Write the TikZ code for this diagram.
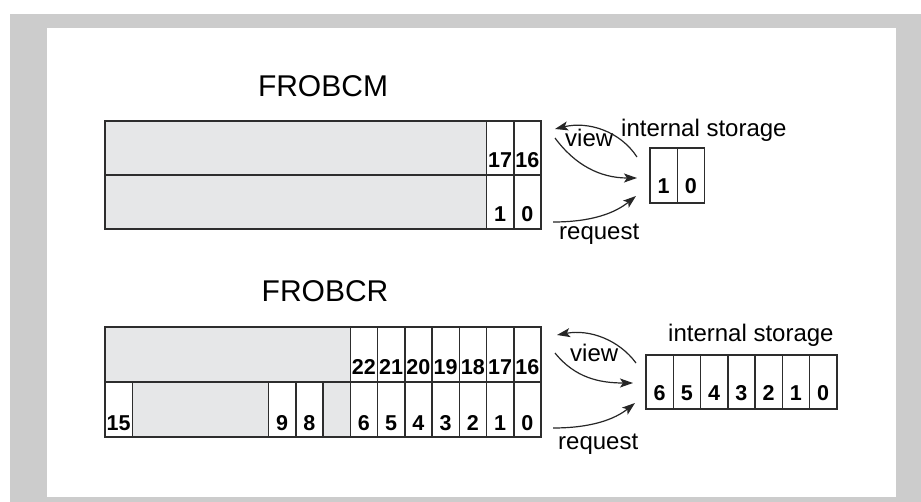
\documentclass[tikz,border=0pt]{standalone}
\usepackage{fontspec}
\setmainfont{Liberation Sans}
\usetikzlibrary{positioning,arrows.meta}
\definecolor{FrameGray}{RGB}{204,204,204}
\definecolor{BarFill}{RGB}{230,231,232}
\definecolor{RuleGray}{RGB}{45,45,45}
\newcommand{\bitfont}{\fontsize{21.5}{21.5}\selectfont\bfseries}
\newcommand{\labfont}{\fontsize{24}{26}\selectfont}
\newcommand{\titfont}{\fontsize{30}{32}\selectfont}

\begin{document}
\begin{tikzpicture}[x=1pt,y=-1pt,
cell/.style 2 args={draw=RuleGray,line width=1.5pt,fill=white,minimum width=27.25pt,inner sep=0pt,outer sep=0pt,text height=#1,text depth=#2,anchor=north west,font=\bitfont},
field/.style={draw=RuleGray,line width=1.5pt,fill=BarFill,inner sep=0pt,outer sep=0pt,anchor=north west},
arrow/.style={-{Stealth[length=13pt,width=9pt,inset=3pt]},line width=1.2pt,draw=black!85},
lab/.style={font=\labfont,inner sep=0pt,anchor=base west},
title/.style={font=\titfont,inner sep=0pt,anchor=base}
]
\useasboundingbox (0,0) rectangle (921,502);
\fill[FrameGray] (10,14) rectangle (921,502);
\fill[white] (47,28) rectangle (896,497);

\node[title] (cmtitle) at (323,97) {FROBCM};
\node[field,minimum width=381.5pt,minimum height=54pt] (cmhi) at (105,121) {};
\node[field,minimum width=381.5pt,minimum height=54pt] (cmlo) at (105,175) {};
\foreach \b in {16,17} \node[cell={47pt}{7pt}] (cm\b) at ({541-(\b-15)*27.25},121) {\b};
\foreach \b in {0,1} \node[cell={47pt}{7pt}] (cm\b) at ({541-(\b+1)*27.25},175) {\b};
\foreach \b [count=\i from 0] in {1,0} \node[cell={46pt}{9pt}] (cms\b) at ({650+\i*27.25},148) {\b};
\node[lab] (cmint) at (621,137) {internal storage};
\node[lab] (cmview) at (565,147) {view};
\node[lab] (cmreq) at (559,240) {request};
\coordinate (cmbk) at (637,157); \coordinate (cmbkend) at (555,129);
\coordinate (cmvw) at (555,138); \coordinate (cmvwend) at (637,178);
\coordinate (cmrq) at (553,222); \coordinate (cmrqend) at (636,196);
\draw[arrow] (cmbk) .. controls (620,131) and (588,121) .. (cmbkend);
\draw[arrow] (cmvw) .. controls (575,165) and (600,178) .. (cmvwend);
\draw[arrow] (cmrq) .. controls (592,222) and (615,213) .. (cmrqend);

\node[title] (crtitle) at (325,302) {FROBCR};
\node[field,minimum width=245.5pt,minimum height=55pt] (crhi) at (105,327) {};
\node[field,minimum width=136.5pt,minimum height=55pt] (crmid) at (132.25,382) {};
\node[field,minimum width=27.25pt,minimum height=55pt] (cr7) at (323.25,382) {};
\foreach \b in {16,...,22} \node[cell={48pt}{7pt}] (cr\b) at ({541-(\b-15)*27.25},327) {\b};
\foreach \b in {0,...,6,8,9,15} \node[cell={48pt}{7pt}] (cr\b) at ({541-(\b+1)*27.25},382) {\b};
\foreach \b [count=\i from 0] in {6,...,0} \node[cell={45pt}{9pt}] (crs\b) at ({646+\i*27.25},355) {\b};
\node[lab] (crint) at (668,342) {internal storage};
\node[lab] (crview) at (570,362) {view};
\node[lab] (crreq) at (558,449) {request};
\coordinate (crbk) at (636,363); \coordinate (crbkend) at (557,335);
\coordinate (crvw) at (555,353); \coordinate (crvwend) at (633,383);
\coordinate (crrq) at (553,428); \coordinate (crrqend) at (635,403);
\draw[arrow] (crbk) .. controls (619,340) and (590,329) .. (crbkend);
\draw[arrow] (crvw) .. controls (575,378) and (600,383) .. (crvwend);
\draw[arrow] (crrq) .. controls (592,428) and (615,419) .. (crrqend);
\end{tikzpicture}
\end{document}
